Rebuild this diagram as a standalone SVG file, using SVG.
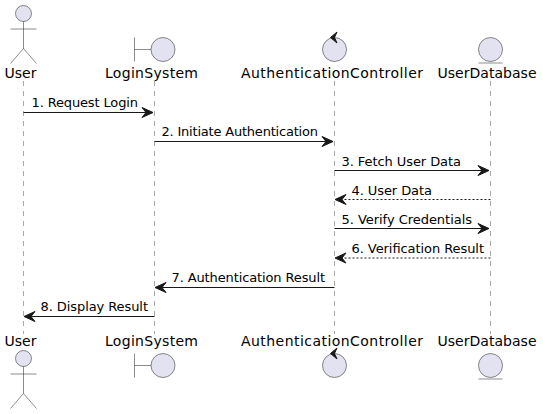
<svg xmlns="http://www.w3.org/2000/svg" width="543" height="414" viewBox="0 0 543 414">
<style>
text{font-family:"DejaVu Sans",sans-serif;fill:#000}
.name{font-size:14px}
.msg{font-size:13px}
.life{stroke:#181818;stroke-opacity:.75;stroke-width:.5;stroke-dasharray:5 5;fill:none}
.shape{fill:#E2E2F0;stroke:#181818;stroke-width:.5}
.bare{fill:none;stroke:#181818;stroke-width:.5}
.ar{stroke:#181818;stroke-width:1;fill:none}
.dash{stroke-dasharray:2 2}
.head{fill:#181818;stroke:#181818;stroke-width:1}
.ctl{fill:#181818;stroke:#181818;stroke-width:1}
</style>
<rect width="543" height="414" fill="#fff"/>
<g id="lifelines">
<line class="life" x1="23.5" y1="81" x2="23.5" y2="334"/>
<line class="life" x1="154.5" y1="81" x2="154.5" y2="334"/>
<line class="life" x1="334.5" y1="81" x2="334.5" y2="334"/>
<line class="life" x1="490.5" y1="81" x2="490.5" y2="334"/>
</g>
<g id="User">
<circle class="shape" cx="23.5" cy="13.5" r="8"/>
<path class="bare" d="M23.5 21.5V48.5M10.500 29H36.500M23.500 48.500L10.500 63.500M23.500 48.500L36.500 63.500"/>
<text class="name" x="4.500" y="78" textLength="32">User</text>
<text class="name" x="4.500" y="346" textLength="32">User</text>
<circle class="shape" cx="23.5" cy="358.500" r="8"/>
<path class="bare" d="M23.500 366.500V393.500M10.500 374H36.500M23.500 393.500L10.500 408.500M23.500 393.500L36.500 408.500"/>
</g>
<g id="LoginSystem">
<path class="bare" d="M134.500 37.500V61.500M134.500 49.500H151"/>
<circle class="shape" cx="163" cy="49.500" r="12"/>
<text class="name" x="105" y="78" textLength="93">LoginSystem</text>
<text class="name" x="105" y="346" textLength="93">LoginSystem</text>
<path class="bare" d="M134.500 353.500V377.500M134.500 365.500H151"/>
<circle class="shape" cx="163" cy="365.500" r="12"/>
</g>
<g id="AuthenticationController">
<circle class="shape" cx="334.500" cy="49.500" r="12"/>
<path class="ctl" d="M337 32L330.500 37.500L337 43L334.500 37.500Z"/>
<text class="name" x="241" y="78" textLength="182">AuthenticationController</text>
<text class="name" x="241" y="346" textLength="182">AuthenticationController</text>
<circle class="shape" cx="334.500" cy="365.500" r="12"/>
<path class="ctl" d="M337 348L330.500 353.500L337 359L334.500 353.500Z"/>
</g>
<g id="UserDatabase">
<circle class="shape" cx="490.500" cy="49.500" r="12"/>
<line class="shape" x1="478.500" y1="63" x2="502.500" y2="63"/>
<text class="name" x="437.500" y="78" textLength="99">UserDatabase</text>
<text class="name" x="437.500" y="346" textLength="99">UserDatabase</text>
<circle class="shape" cx="490.500" cy="365.500" r="12"/>
<line class="shape" x1="478.500" y1="379" x2="502.500" y2="379"/>
</g>
<g id="connectors">
<line class="ar" x1="23.500" y1="112.500" x2="150" y2="112.500"/><path class="head" d="M142 107.500L153 112.500L142 117.500L146 112.500Z"/>
<line class="ar" x1="154.500" y1="141.500" x2="330" y2="141.500"/><path class="head" d="M322 136.500L333 141.500L322 146.500L326 141.500Z"/>
<line class="ar" x1="334.500" y1="170.500" x2="486" y2="170.500"/><path class="head" d="M478 165.500L489 170.500L478 175.500L482 170.500Z"/>
<line class="ar dash" x1="490.500" y1="199.500" x2="339" y2="199.500"/><path class="head" d="M346 194.500L335 199.500L346 204.500L342 199.500Z"/>
<line class="ar" x1="334.500" y1="228.500" x2="486" y2="228.500"/><path class="head" d="M478 223.500L489 228.500L478 233.500L482 228.500Z"/>
<line class="ar dash" x1="490.500" y1="258" x2="339" y2="258"/><path class="head" d="M346 253L335 258L346 263L342 258Z"/>
<line class="ar" x1="334.500" y1="287.500" x2="159" y2="287.500"/><path class="head" d="M166 282.500L155 287.500L166 292.500L162 287.500Z"/>
<line class="ar" x1="154.500" y1="316.500" x2="28" y2="316.500"/><path class="head" d="M35 311.500L24 316.500L35 321.500L31 316.500Z"/>
</g>
<g id="labels">
<text class="msg" x="31.500" y="107" textLength="106.500">1. Request Login</text>
<text class="msg" x="161.500" y="136" textLength="156.500">2. Initiate Authentication</text>
<text class="msg" x="341.500" y="165.500" textLength="119.500">3. Fetch User Data</text>
<text class="msg" x="351.500" y="195" textLength="80.500">4. User Data</text>
<text class="msg" x="341.500" y="224" textLength="130.500">5. Verify Credentials</text>
<text class="msg" x="351.500" y="253" textLength="132.500">6. Verification Result</text>
<text class="msg" x="171.500" y="282" textLength="153.500">7. Authentication Result</text>
<text class="msg" x="40.500" y="311" textLength="107.500">8. Display Result</text>
</g>
</svg>
